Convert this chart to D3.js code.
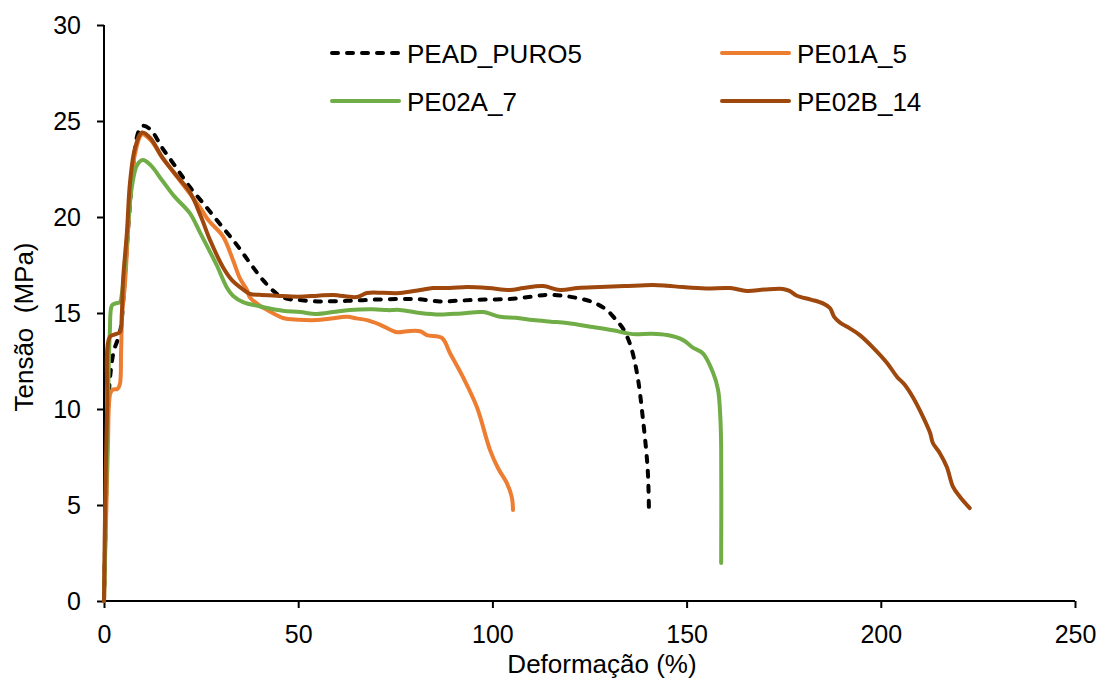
<!DOCTYPE html>
<html>
<head>
<meta charset="utf-8">
<script src="https://cdn.jsdelivr.net/npm/d3@7"></script>
<style>
  html, body { margin: 0; padding: 0; background: #fff; }
  svg { display: block; font-family: "Liberation Sans", Arial, sans-serif; }
</style>
</head>
<body>
<svg id="chart" width="1100" height="679"></svg>
<script>
// Tensile stress–strain curves (Deformação % vs Tensão MPa)
const seriesNames = ["PEAD_PURO5", "PE01A_5", "PE02A_7", "PE02B_14"];
const seriesColors = ["#000000", "#ED7D31", "#70AD47", "#9E480E"];

const xTicks = [0, 50, 100, 150, 200, 250];
const yTicks = [0, 5, 10, 15, 20, 25, 30];

const peadPuro5 = [
  [0,0],[0.5,5],[1,9.5],[1.5,11.5],[2.5,13],[3.5,13.6],[4.3,14.2],[5,15.8],[5.8,18.2],
  [6.8,21],[7.8,23.2],[8.8,24.4],[10,24.75],[12,24.55],[15,23.6],[18.5,22.6],[22.1,21.56],
  [26,20.6],[30,19.6],[34,18.6],[37.6,17.6],[41,16.7],[44.5,16.0],[47,15.75],
  [50,15.68],[55,15.6],[60,15.62],[65,15.65],[70,15.7],[76,15.73],[81,15.72],[86.5,15.6],
  [92,15.65],[98,15.7],[104.5,15.73],[110,15.85],[114,15.94],[118,15.9],[121.8,15.78],
  [126,15.55],[129.5,15.15],[132,14.6],[133.6,14.2],[135.4,13.4],[137.2,11.9],[138.8,9.4],
  [140,6.8],[140.3,4.74]
];

const pe01a5 = [
  [0,0],[0.5,4],[1,8],[1.6,10.8],[2.2,11],[3.5,11.05],[4.1,11.3],[4.4,13],[4.7,15],
  [5.4,16.5],[6.7,20.9],[8,23.3],[9.8,24.3],[12,24],[15,23.1],[18,22.3],[22,21.25],
  [24.7,20.5],[27,19.8],[30.6,19.0],[33.2,17.76],[35,16.8],[36.8,16.2],[37.6,15.8],
  [40,15.4],[42,15.16],[46.1,14.74],[50,14.65],[54.8,14.63],[58,14.7],[62.6,14.8],
  [65,14.72],[67.7,14.63],[71,14.4],[75.4,14.0],[78,14.05],[81.4,14.05],[83.1,13.85],
  [87,13.7],[89.1,12.9],[92.4,11.67],[96,10.1],[99.4,7.86],[101.5,6.9],[103.7,6.15],
  [105,5.4],[105.3,4.74]
];

const pe02a7 = [
  [0,0],[0.5,5],[1,10],[1.5,14],[2.06,15.4],[3,15.5],[4.1,15.57],[4.6,16],[5.4,17.5],
  [6.2,19.6],[7.2,21.6],[8.5,22.7],[10,22.97],[12,22.7],[15,21.9],[18,21.1],[22.1,20.2],
  [24.7,19.2],[27,18.3],[29,17.5],[31.7,16.3],[33.2,15.9],[35.8,15.57],[40,15.35],
  [42,15.26],[46,15.12],[50.5,15.05],[54.8,14.95],[59,15.05],[63.3,15.16],[69.3,15.2],
  [73,15.15],[76.2,15.16],[81.4,15.0],[86.5,14.92],[92,14.98],[97.6,15.05],[102,14.8],
  [106,14.75],[110.5,14.63],[115,14.55],[119.2,14.48],[125.9,14.27],[131,14.1],
  [136.2,13.9],[141,13.92],[145,13.85],[149,13.6],[151.6,13.2],[154.2,12.9],[156.8,11.9],
  [158.1,11.0],[158.7,9.5],[158.9,8],[158.9,1.98]
];

const pe02b14 = [
  [0,0],[0.3,5],[0.8,10],[1.5,13.75],[3,13.9],[4.1,14.0],[4.6,15],[4.9,16.7],[5.9,19.2],
  [6.7,21.8],[8,23.6],[9.8,24.4],[12,24.1],[15,23.1],[18.5,22.2],[22.1,21.3],[25,20],
  [27.3,18.8],[30.6,17.4],[33,16.7],[35,16.35],[37.6,16.0],[40,15.95],[44.5,15.9],
  [50,15.85],[55,15.9],[59,15.94],[65.1,15.83],[67.7,16.04],[72,16.05],[76.2,16.04],
  [81.4,16.2],[84.7,16.3],[89,16.3],[93.5,16.35],[99,16.3],[104.5,16.2],[108,16.3],
  [113,16.4],[117.4,16.2],[122,16.3],[127.7,16.35],[134,16.4],[141.3,16.46],[145,16.42],
  [149,16.35],[155,16.28],[161.2,16.3],[165.5,16.15],[170,16.22],[174.8,16.25],
  [176.5,16.15],[178.4,15.9],[182,15.7],[185.1,15.5],[186.9,15.26],[188,14.8],[189.5,14.5],
  [192,14.2],[194.6,13.85],[198,13.2],[201.6,12.4],[204.2,11.67],[206,11.3],[208.3,10.6],
  [210.9,9.58],[212.7,8.75],[213.4,8.23],[215.2,7.7],[217,6.98],[218.6,5.94],[220.4,5.42],
  [222.9,4.84]
];

const seriesData = [peadPuro5, pe01a5, pe02a7, pe02b14];

const svg = d3.select("#chart");
const x = d3.scaleLinear().domain([0, 250]).range([104, 1075]);
const y = d3.scaleLinear().domain([0, 30]).range([601, 25]);

const fontFamily = "'Liberation Sans', Arial, sans-serif";
const tickFont = 25;
const labelFont = 26;
const strokeW = 4;

// Axes
const xAxis = d3.axisBottom(x).tickValues(xTicks).tickSize(7).tickPadding(17);
const yAxis = d3.axisLeft(y).tickValues(yTicks).tickSize(7).tickPadding(16);

const gx = svg.append("g").attr("transform", "translate(0,601)").call(xAxis);
const gy = svg.append("g").attr("transform", "translate(104,0)").call(yAxis);
[gx, gy].forEach(g => {
  g.selectAll("path.domain").attr("stroke", "#000").attr("stroke-width", 2);
  g.selectAll(".tick line").attr("stroke", "#000").attr("stroke-width", 2);
  g.selectAll(".tick text").attr("fill", "#000")
    .style("font-size", tickFont + "px")
    .style("font-family", fontFamily);
});
gx.selectAll("path.domain").attr("d", `M${x(0)},0H${x(250)}`);
gy.selectAll("path.domain").attr("d", `M0,${y(30)}V${y(0)}`);

// Axis titles
svg.append("text")
  .attr("x", 602).attr("y", 673)
  .attr("text-anchor", "middle")
  .style("font-size", labelFont + "px")
  .text("Deformação (%)");

svg.append("text")
  .attr("transform", "translate(33,327) rotate(-90)")
  .attr("text-anchor", "middle")
  .style("font-size", labelFont + "px")
  .style("white-space", "pre")
  .attr("xml:space", "preserve")
  .text("Tensão  (MPa)");

// Curves
const line = d3.line()
  .x(d => x(d[0]))
  .y(d => y(d[1]))
  .curve(d3.curveCatmullRom.alpha(0.5));

seriesData.forEach((data, i) => {
  svg.append("path")
    .datum(data)
    .attr("fill", "none")
    .attr("stroke", seriesColors[i])
    .attr("stroke-width", strokeW)
    .attr("stroke-linejoin", "round")
    .attr("stroke-linecap", "round")
    .attr("stroke-dasharray", i === 0 ? "6,9" : null)
    .attr("d", line);
});

// Legend (two columns, two rows)
const legendPos = [[332, 53], [722, 53], [332, 101], [722, 101]];
seriesNames.forEach((name, i) => {
  const [lx, ly] = legendPos[i];
  svg.append("line")
    .attr("x1", lx).attr("x2", lx + 67)
    .attr("y1", ly).attr("y2", ly)
    .attr("stroke", seriesColors[i])
    .attr("stroke-width", strokeW)
    .attr("stroke-linecap", "round")
    .attr("stroke-dasharray", i === 0 ? "6,9" : null);
  svg.append("text")
    .attr("x", lx + 75).attr("y", ly + 10)
    .style("font-size", labelFont + "px")
    .text(name);
});
</script>
</body>
</html>
